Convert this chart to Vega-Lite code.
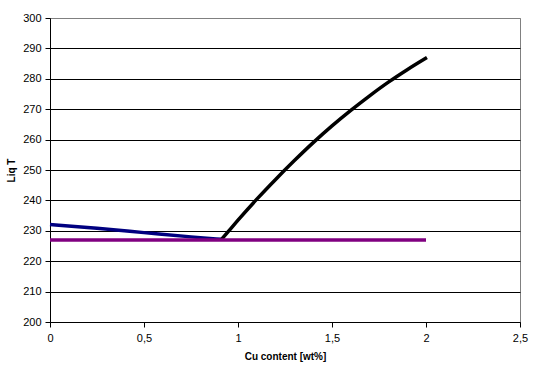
{
  "$schema": "https://vega.github.io/schema/vega-lite/v6.json",
  "autosize": "none",
  "width": 470,
  "height": 304,
  "padding": {"left": 50, "top": 18, "right": 20, "bottom": 57},
  "background": "white",
  "config": {
    "view": {"stroke": "#808080", "strokeWidth": 1},
    "font": "Liberation Sans"
  },
  "data": {
    "values": [
      {"series": "A", "cu": 0, "t": 232.1},
      {"series": "A", "cu": 0.25, "t": 230.8},
      {"series": "A", "cu": 0.5, "t": 229.4},
      {"series": "A", "cu": 0.75, "t": 228.0},
      {"series": "A", "cu": 0.91, "t": 227.2},
      {"series": "B", "cu": 0.91, "t": 227.0},
      {"series": "B", "cu": 0.95, "t": 229.9},
      {"series": "B", "cu": 1.0, "t": 233.5},
      {"series": "B", "cu": 1.1, "t": 240.4},
      {"series": "B", "cu": 1.2, "t": 246.9},
      {"series": "B", "cu": 1.3, "t": 253.1},
      {"series": "B", "cu": 1.4, "t": 259.0},
      {"series": "B", "cu": 1.5, "t": 264.5},
      {"series": "B", "cu": 1.6, "t": 269.6},
      {"series": "B", "cu": 1.7, "t": 274.4},
      {"series": "B", "cu": 1.8, "t": 278.9},
      {"series": "B", "cu": 1.9, "t": 283.0},
      {"series": "B", "cu": 2.005, "t": 287.0},
      {"series": "C", "cu": 0, "t": 227},
      {"series": "C", "cu": 2.0, "t": 227}
    ]
  },
  "mark": {"type": "line", "strokeCap": "butt", "strokeJoin": "round", "interpolate": "monotone"},
  "encoding": {
    "x": {
      "field": "cu", "type": "quantitative",
      "scale": {"domain": [0, 2.5], "nice": false, "zero": false},
      "axis": {
        "values": [0, 0.5, 1, 1.5, 2, 2.5],
        "labelExpr": "replace(format(datum.value, ''), '.', ',')",
        "title": "Cu content [wt%]",
        "titleFont": "Liberation Sans", "titleFontSize": 10, "titleFontWeight": "bold", "titleColor": "black",
        "titlePadding": 8,
        "labelFont": "Liberation Sans", "labelFontSize": 11, "labelColor": "black", "labelPadding": 5,
        "domainColor": "black", "tickColor": "black", "tickSize": 5,
        "grid": false, "labelFlush": false
      }
    },
    "y": {
      "field": "t", "type": "quantitative",
      "scale": {"domain": [200, 300], "nice": false, "zero": false},
      "axis": {
        "values": [200, 210, 220, 230, 240, 250, 260, 270, 280, 290, 300],
        "title": "Liq T",
        "titleFont": "Liberation Sans", "titleFontSize": 10, "titleFontWeight": "bold", "titleColor": "black",
        "titlePadding": 6,
        "labelFont": "Liberation Sans", "labelFontSize": 11, "labelColor": "black", "labelPadding": 4,
        "domainColor": "black", "tickColor": "black", "tickSize": 5,
        "grid": true,
        "gridColor": {"condition": {"test": "datum.value == 300", "value": "#808080"}, "value": "black"},
        "gridOpacity": 1, "labelFlush": false
      }
    },
    "color": {
      "field": "series", "type": "nominal",
      "scale": {"domain": ["A", "B", "C"], "range": ["#000080", "#000000", "#800080"]},
      "legend": null
    },
    "strokeWidth": {
      "field": "series", "type": "nominal",
      "scale": {"domain": ["A", "B", "C"], "range": [3.5, 3.5, 2.5]},
      "legend": null
    }
  }
}
